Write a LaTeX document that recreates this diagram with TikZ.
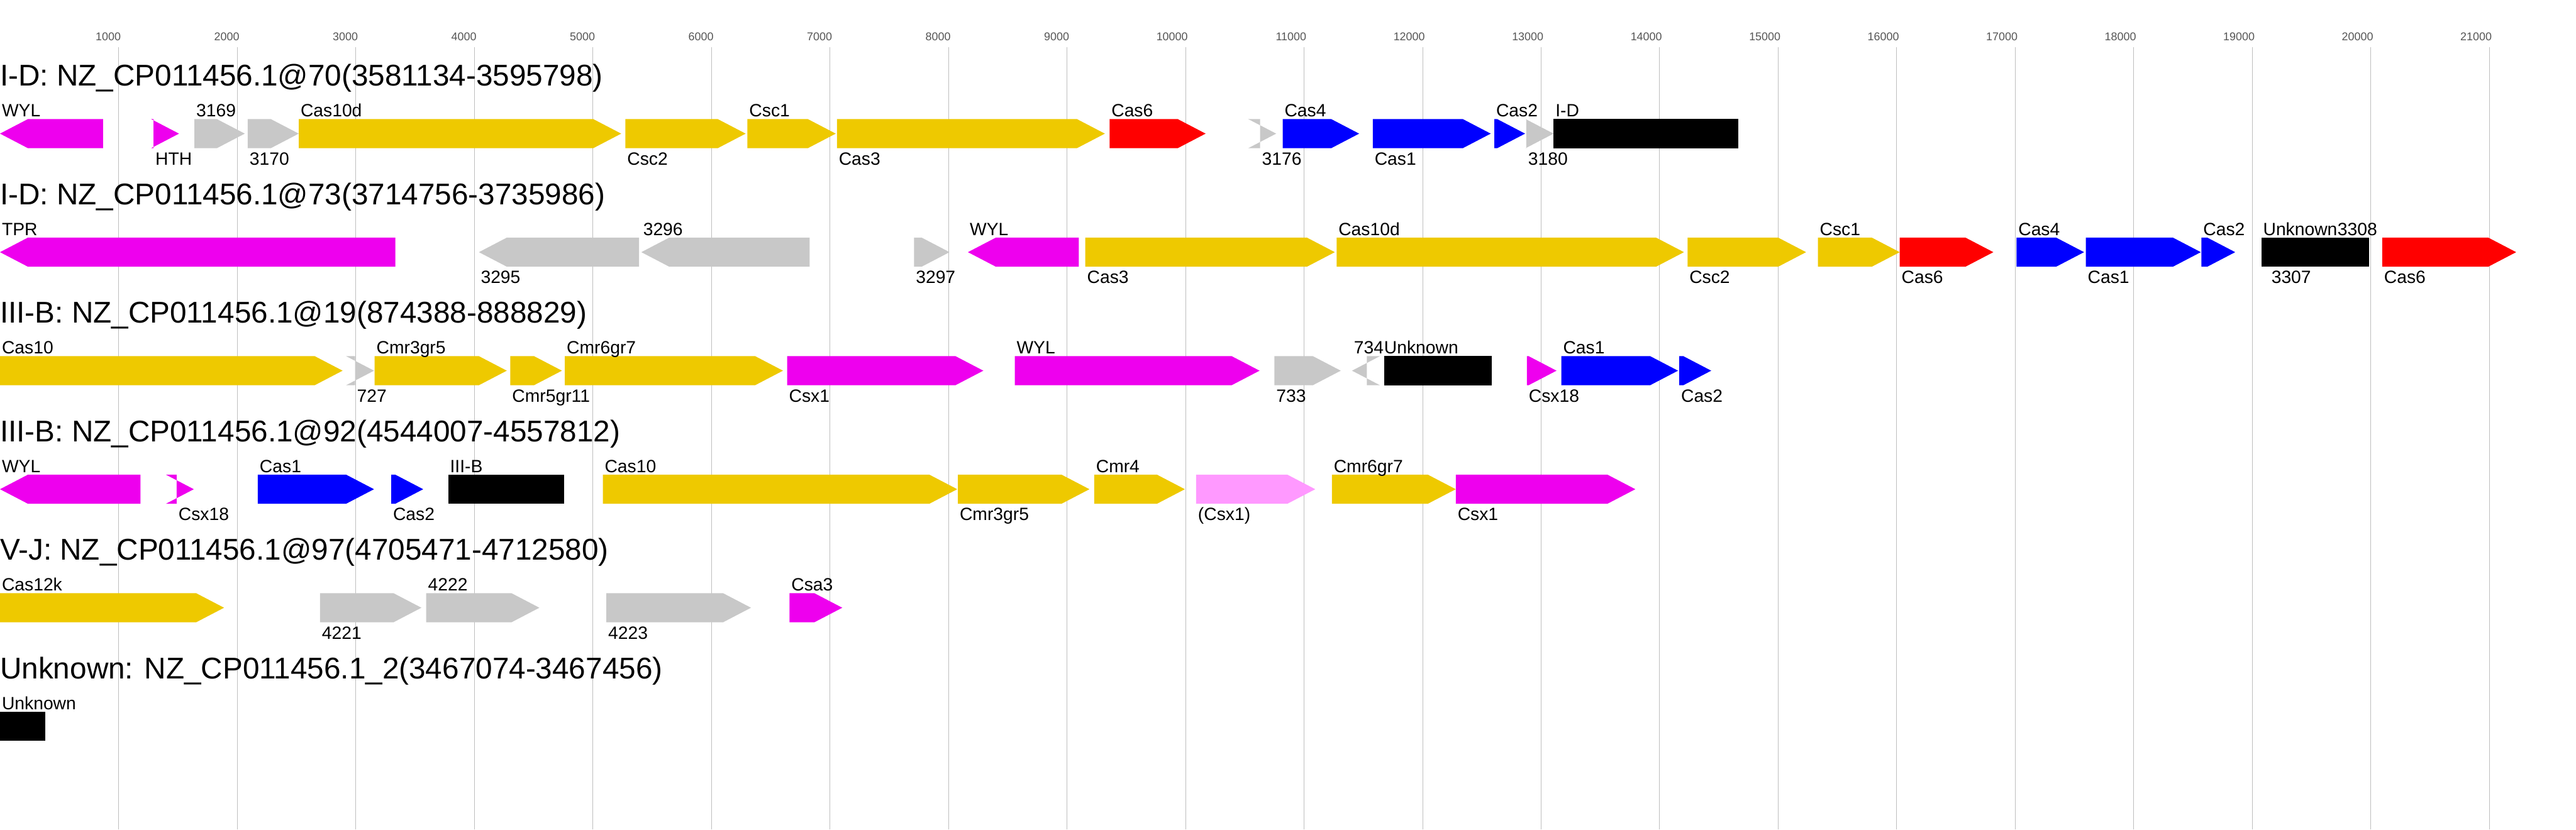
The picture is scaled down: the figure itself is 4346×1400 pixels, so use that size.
\documentclass[tikz,border=0pt]{standalone}
\usepackage{fontspec}
\setmainfont{Liberation Sans}
\definecolor{cyel}{HTML}{EEC900}
\definecolor{cmag}{HTML}{EE00EE}
\definecolor{cgry}{HTML}{C8C8C8}
\definecolor{cpnk}{HTML}{FF99FF}
\definecolor{cred}{HTML}{FF0000}
\definecolor{cblu}{HTML}{0000FF}
\definecolor{cgrid}{HTML}{BEBEBE}
\definecolor{ctick}{HTML}{555555}
\newcommand\genefwd[4]{\fill[#4] (#1,#3) -- ({#2-47},#3) -- (#2,{#3+24.5}) -- ({#2-47},{#3+49}) -- (#1,{#3+49}) -- cycle;}
\newcommand\generev[4]{\fill[#4] (#2,#3) -- ({#1+47},#3) -- (#1,{#3+24.5}) -- ({#1+47},{#3+49}) -- (#2,{#3+49}) -- cycle;}
\newcommand\geneblk[3]{\fill[black] (#1,#3) rectangle (#2,{#3+49});}
\newcommand\labup[4]{\node[glab] (#1) at ({#2+3},{#3-4}) {#4};}
\newcommand\labdn[4]{\node[glab] (#1) at ({#2+3},{#3+77}) {#4};}
\begin{document}
\begin{tikzpicture}[x=1pt,y=-1pt,
  glab/.style={anchor=base west,inner sep=0pt,font=\fontsize{30}{36}\selectfont},
  ttl/.style={anchor=base west,inner sep=0pt,font=\fontsize{50.6}{60}\selectfont},
  tick/.style={anchor=base east,inner sep=0pt,text=ctick,font=\fontsize{19}{23}\selectfont},
  gridline/.style={draw=cgrid,line width=1pt}]
\useasboundingbox (0,0) rectangle (4346,1400);
\fill[white] (0,0) rectangle (4346,1400);
% grid and ticks
\foreach \k in {1,...,21}{
  \draw[gridline] (200*\k,80) -- (200*\k,1400);
  \node[tick] (tk\k) at (200*\k+4,68) {\k000};
}
% titles
\node[ttl] (t1) at (0,145) {I-D: NZ\_CP011456.1@70(3581134-3595798)};
\node[ttl] (t2) at (0,345) {I-D: NZ\_CP011456.1@73(3714756-3735986)};
\node[ttl] (t3) at (0,545) {III-B: NZ\_CP011456.1@19(874388-888829)};
\node[ttl] (t4) at (0,745) {III-B: NZ\_CP011456.1@92(4544007-4557812)};
\node[ttl] (t5) at (0,945) {V-J: NZ\_CP011456.1@97(4705471-4712580)};
\node[ttl] (t6) at (0,1145) {Unknown: NZ\_CP011456.1\_2(3467074-3467456)};
% row 1
\generev{0}{174}{201}{cmag}\labup{r1a}{0}{201}{WYL}
\genefwd{259}{302}{201}{cmag}\labdn{r1b}{259}{201}{HTH}
\genefwd{328}{413}{201}{cgry}\labup{r1c}{328}{201}{3169}
\genefwd{418}{504}{201}{cgry}\labdn{r1d}{418}{201}{3170}
\genefwd{504}{1048}{201}{cyel}\labup{r1e}{504}{201}{Cas10d}
\genefwd{1055}{1258}{201}{cyel}\labdn{r1f}{1055}{201}{Csc2}
\genefwd{1261}{1410}{201}{cyel}\labup{r1g}{1261}{201}{Csc1}
\genefwd{1412}{1864}{201}{cyel}\labdn{r1h}{1412}{201}{Cas3}
\genefwd{1872}{2034}{201}{cred}\labup{r1i}{1872}{201}{Cas6}
\genefwd{2126}{2153}{201}{cgry}\labdn{r1j}{2126}{201}{3176}
\genefwd{2164}{2293}{201}{cblu}\labup{r1k}{2164}{201}{Cas4}
\genefwd{2316}{2515}{201}{cblu}\labdn{r1l}{2316}{201}{Cas1}
\genefwd{2521}{2573}{201}{cblu}\labup{r1m}{2521}{201}{Cas2}
\genefwd{2575}{2621}{201}{cgry}\labdn{r1n}{2575}{201}{3180}
\geneblk{2621}{2933}{201}\labup{r1o}{2621}{201}{I-D}
% row 2
\generev{0}{667}{401}{cmag}\labup{r2a}{0}{401}{TPR}
\generev{808}{1078}{401}{cgry}\labdn{r2b}{808}{401}{3295}
\generev{1082}{1366}{401}{cgry}\labup{r2c}{1082}{401}{3296}
\genefwd{1542}{1602}{401}{cgry}\labdn{r2d}{1542}{401}{3297}
\generev{1633}{1820}{401}{cmag}\labup{r2e}{1633}{401}{WYL}
\genefwd{1831}{2252}{401}{cyel}\labdn{r2f}{1831}{401}{Cas3}
\genefwd{2255}{2841}{401}{cyel}\labup{r2g}{2255}{401}{Cas10d}
\genefwd{2847}{3047}{401}{cyel}\labdn{r2h}{2847}{401}{Csc2}
\genefwd{3067}{3205}{401}{cyel}\labup{r2i}{3067}{401}{Csc1}
\genefwd{3205}{3363}{401}{cred}\labdn{r2j}{3205}{401}{Cas6}
\genefwd{3402}{3516}{401}{cblu}\labup{r2k}{3402}{401}{Cas4}
\genefwd{3519}{3713}{401}{cblu}\labdn{r2l}{3519}{401}{Cas1}
\genefwd{3714}{3771}{401}{cblu}\labup{r2m}{3714}{401}{Cas2}
\geneblk{3815}{3997}{401}\labup{r2n}{3815}{401}{Unknown}
\labdn{r2o}{3829}{401}{3307}
\node[glab,anchor=base west] (r2p) at (r2n.base east) {3308};
\genefwd{4019}{4245}{401}{cred}\labdn{r2q}{4019}{401}{Cas6}
% row 3
\genefwd{0}{578}{601}{cyel}\labup{r3a}{0}{601}{Cas10}
\genefwd{599}{631}{601}{cgry}\labdn{r3b}{599}{601}{727}
\genefwd{632}{855}{601}{cyel}\labup{r3c}{632}{601}{Cmr3gr5}
\genefwd{861}{948}{601}{cyel}\labdn{r3d}{861}{601}{Cmr5gr11}
\genefwd{953}{1321}{601}{cyel}\labup{r3e}{953}{601}{Cmr6gr7}
\genefwd{1328}{1659}{601}{cmag}\labdn{r3f}{1328}{601}{Csx1}
\genefwd{1712}{2125}{601}{cmag}\labup{r3g}{1712}{601}{WYL}
\genefwd{2150}{2262}{601}{cgry}\labdn{r3h}{2150}{601}{733}
\generev{2281}{2306}{601}{cgry}\labup{r3i}{2281}{601}{734}
\geneblk{2335}{2517}{601}\labup{r3j}{2332}{601}{Unknown}
\genefwd{2576}{2626}{601}{cmag}\labdn{r3k}{2576}{601}{Csx18}
\genefwd{2634}{2831}{601}{cblu}\labup{r3l}{2634}{601}{Cas1}
\genefwd{2833}{2887}{601}{cblu}\labdn{r3m}{2833}{601}{Cas2}
% row 4
\generev{0}{237}{801}{cmag}\labup{r4a}{0}{801}{WYL}
\genefwd{298}{327}{801}{cmag}\labdn{r4b}{298}{801}{Csx18}
\genefwd{435}{631}{801}{cblu}\labup{r4c}{435}{801}{Cas1}
\genefwd{660}{714}{801}{cblu}\labdn{r4d}{660}{801}{Cas2}
\geneblk{756}{952}{801}\labup{r4e}{756}{801}{III-B}
\genefwd{1017}{1615}{801}{cyel}\labup{r4f}{1017}{801}{Cas10}
\genefwd{1616}{1838}{801}{cyel}\labdn{r4g}{1616}{801}{Cmr3gr5}
\genefwd{1846}{1999}{801}{cyel}\labup{r4h}{1846}{801}{Cmr4}
\genefwd{2018}{2219}{801}{cpnk}\labdn{r4i}{2018}{801}{(Csx1)}
\genefwd{2247}{2456}{801}{cyel}\labup{r4j}{2247}{801}{Cmr6gr7}
\genefwd{2456}{2759}{801}{cmag}\labdn{r4k}{2456}{801}{Csx1}
% row 5
\genefwd{0}{378}{1001}{cyel}\labup{r5a}{0}{1001}{Cas12k}
\genefwd{540}{711}{1001}{cgry}\labdn{r5b}{540}{1001}{4221}
\genefwd{719}{910}{1001}{cgry}\labup{r5c}{719}{1001}{4222}
\genefwd{1023}{1267}{1001}{cgry}\labdn{r5d}{1023}{1001}{4223}
\genefwd{1332}{1421}{1001}{cmag}\labup{r5e}{1332}{1001}{Csa3}
% row 6
\geneblk{0}{76}{1201}\labup{r6a}{0}{1201}{Unknown}
\end{tikzpicture}
\end{document}
